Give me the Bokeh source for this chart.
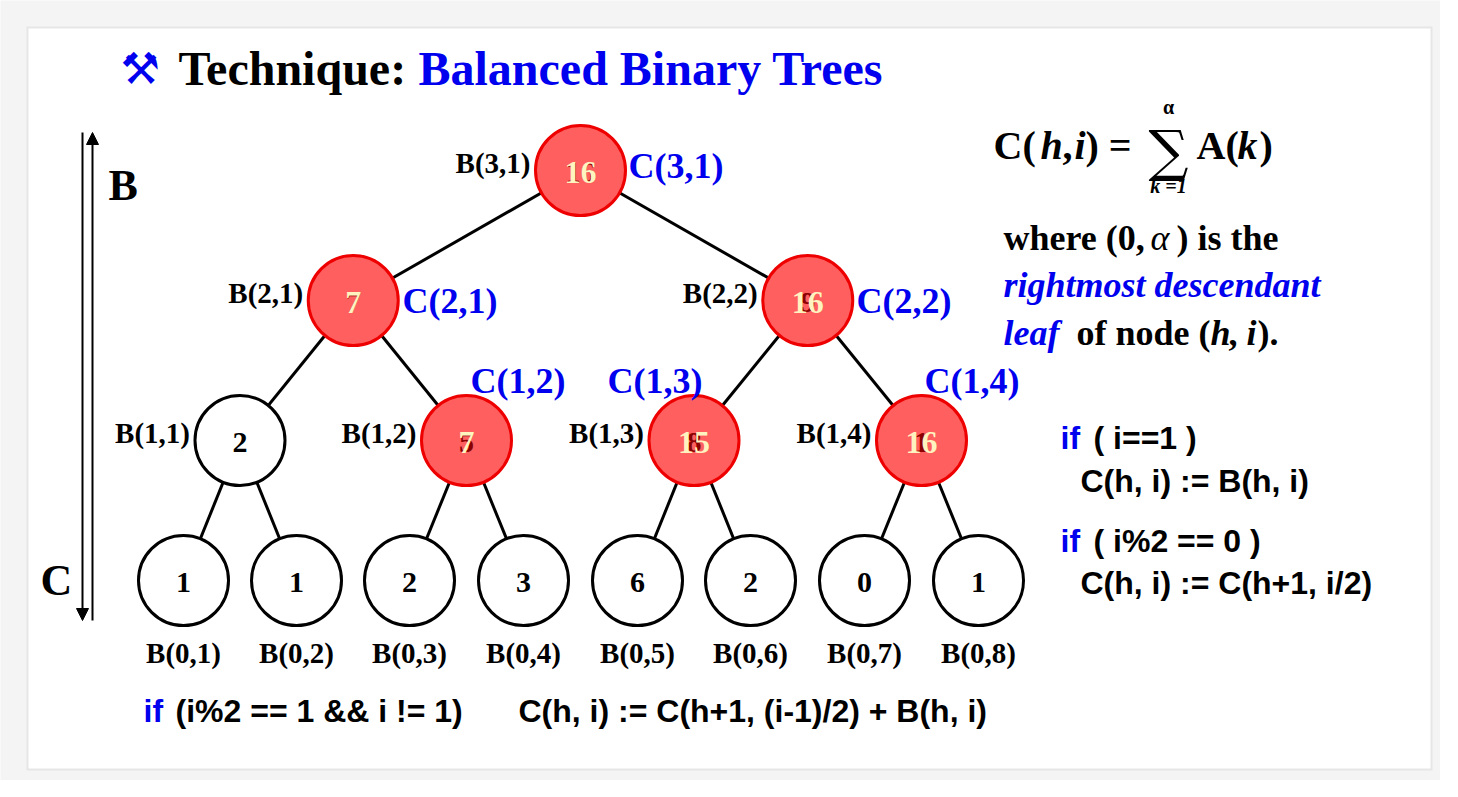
from bokeh.plotting import figure
from bokeh.models import Range1d, ColumnDataSource, Arrow, NormalHead
from bokeh.core.properties import value
from bokeh.embed import file_html
from bokeh.resources import INLINE

SERIF = value("Liberation Serif")
SANS = value("Liberation Sans")

# tree data: level h, index i, B value, C value (None = plain node)
levels = [0] * 8 + [1] * 4 + [2] * 2 + [3]
index = list(range(1, 9)) + [1, 2, 3, 4] + [1, 2] + [1]
b_vals = [1, 1, 2, 3, 6, 2, 0, 1, 2, 5, 8, 1, 7, 9, 16]
c_vals = [None] * 8 + [None, 7, 15, 16] + [7, 16] + [16]

leaf_x = [183, 296, 409, 523, 637, 750, 864, 978]
level_y = {0: 580, 1: 440, 2: 300, 3: 170}

# node positions from the leaves upwards
xs = {}
for i, x in enumerate(leaf_x, 1):
    xs[(0, i)] = x
for h in (1, 2, 3):
    for i in range(1, 2 ** (3 - h) + 1):
        xs[(h, i)] = (xs[(h - 1, 2 * i - 1)] + xs[(h - 1, 2 * i)]) / 2

p = figure(width=1440, height=780, x_range=Range1d(0, 1440), y_range=Range1d(780, 0),
           output_backend="svg", toolbar_location=None, min_border=0)
p.axis.visible = False
p.grid.visible = False
p.outline_line_color = None
p.background_fill_color = "#f4f4f4"
p.border_fill_color = "#f4f4f4"


def txt(x, y, s, size, style="bold", color="black", font=SERIF, align="left"):
    p.text([x], [y], text=[s], text_font=font, text_font_style=style, text_font_size=size,
           text_color=color, text_baseline="middle", text_align=align)


# card
p.quad(left=[26], right=[1432], top=[26], bottom=[770], fill_color="#e6e6e6", line_color=None)
p.quad(left=[28], right=[1430], top=[28], bottom=[768], fill_color="white", line_color=None)

# edges
x0, y0, x1, y1 = [], [], [], []
for h in (1, 2, 3):
    for i in range(1, 2 ** (3 - h) + 1):
        for c in (2 * i - 1, 2 * i):
            x0.append(xs[(h, i)]); y0.append(level_y[h])
            x1.append(xs[(h - 1, c)]); y1.append(level_y[h - 1])
p.segment(x0, y0, x1, y1, line_color="black", line_width=3)

# nodes
nx = [xs[(h, i)] for h, i in zip(levels, index)]
ny = [level_y[h] for h in levels]
red = [c is not None for c in c_vals]
fill = ["#ff5f5f" if r else "white" for r in red]
line = ["#ee0000" if r else "black" for r in red]
p.circle(nx, ny, radius=45, fill_color=fill, line_color=line, line_width=3)

# values inside nodes
bt = ColumnDataSource(dict(x=nx, y=[y + 2 for y in ny], t=[str(v) for v in b_vals],
                           c=["#8b0000" if r else "black" for r in red]))
p.text("x", "y", text="t", text_color="c", source=bt, text_font=SERIF, text_font_style="bold",
       text_font_size="30px", text_align="center", text_baseline="middle")
rx = [x for x, r in zip(nx, red) if r]
ry = [y + 2 for y, r in zip(ny, red) if r]
rt = [str(c) for c in c_vals if c is not None]
p.text(rx, ry, text=rt, text_color="#fff3c0", text_font=SERIF, text_font_style="bold",
       text_font_size="32px", text_align="center", text_baseline="middle")

# B labels
lx, ly, lt = [], [], []
for h, i in zip(levels, index):
    if h == 0:
        lx.append(xs[(h, i)]); ly.append(652)
    else:
        lx.append(xs[(h, i)] - 50); ly.append(level_y[h] - 8)
    lt.append(f"B({h},{i})")
al = ["center" if h == 0 else "right" for h in levels]
p.text(lx, ly, text=lt, text_align=al, text_baseline="middle", text_font=SERIF,
       text_font_style="bold", text_font_size="29px", text_color="black")

# C labels
cpos = {(3, 1): (628, 165), (2, 1): (402, 300), (2, 2): (856, 300),
        (1, 2): (470, 380), (1, 3): (607, 380), (1, 4): (924, 380)}
p.text([v[0] for v in cpos.values()], [v[1] for v in cpos.values()],
       text=[f"C({h},{i})" for h, i in cpos], text_baseline="middle", text_font=SERIF,
       text_font_style="bold", text_font_size="36px", text_color="#0000ee")

# title
txt(120, 68, "⚒", "44px", style="normal", color="#0000ee", font=value("DejaVu Sans"))
txt(178, 68, "Technique:", "48px")
txt(418, 68, "Balanced Binary Trees", "48px", color="#0000ee")

# B / C axis arrows
p.add_layout(Arrow(end=NormalHead(size=12, fill_color="black"), x_start=92, y_start=620,
                   x_end=92, y_end=132, line_width=2))
p.add_layout(Arrow(end=NormalHead(size=12, fill_color="black"), x_start=82, y_start=132,
                   x_end=82, y_end=620, line_width=2))
txt(108, 185, "B", "44px")
txt(40, 580, "C", "44px")

# formula
txt(993, 145, "C(", "40px")
txt(1040, 145, "h", "40px", style="bold italic")
txt(1062, 145, ",", "40px")
txt(1074, 145, "i", "40px", style="bold italic")
txt(1085, 145, ") =", "40px")
txt(1168, 150, "∑", "56px", style="normal", font=value("DejaVu Serif"), align="center")
txt(1168, 106, "α", "20px", align="center")
txt(1168, 185, "k =1", "20px", style="bold italic", align="center")
txt(1196, 145, "A(", "40px")
txt(1237, 145, "k", "40px", style="bold italic")
txt(1259, 145, ")", "40px")

txt(1003, 237, "where (0, ", "36px")
txt(1150, 237, "α", "36px", style="italic")
txt(1176, 237, ") is the", "36px")
txt(1003, 284, "rightmost descendant", "36px", style="bold italic", color="#0000ee")
txt(1003, 332, "leaf", "36px", style="bold italic", color="#0000ee")
txt(1076, 332, "of node (", "36px")
txt(1210, 332, "h", "36px", style="bold italic")
txt(1228, 332, ",", "36px")
txt(1246, 332, "i", "36px", style="bold italic")
txt(1257, 332, ").", "36px")

# rules
for x, y, s in [(1060, 437, "if"), (1060, 540, "if"), (143, 710, "if")]:
    txt(x, y, s, "32px", color="#0000ee", font=SANS)
for x, y, s in [(1093, 437, "( i==1 )"), (1080, 480, "C(h, i) := B(h, i)"),
                (1093, 540, "( i%2 == 0 )"), (1080, 582, "C(h, i) := C(h+1, i/2)"),
                (175, 710, "(i%2 == 1 && i != 1)"),
                (518, 710, "C(h, i) := C(h+1, (i-1)/2) + B(h, i)")]:
    txt(x, y, s, "32px", font=SANS)

open("out.html", "w").write(file_html(p, INLINE))
